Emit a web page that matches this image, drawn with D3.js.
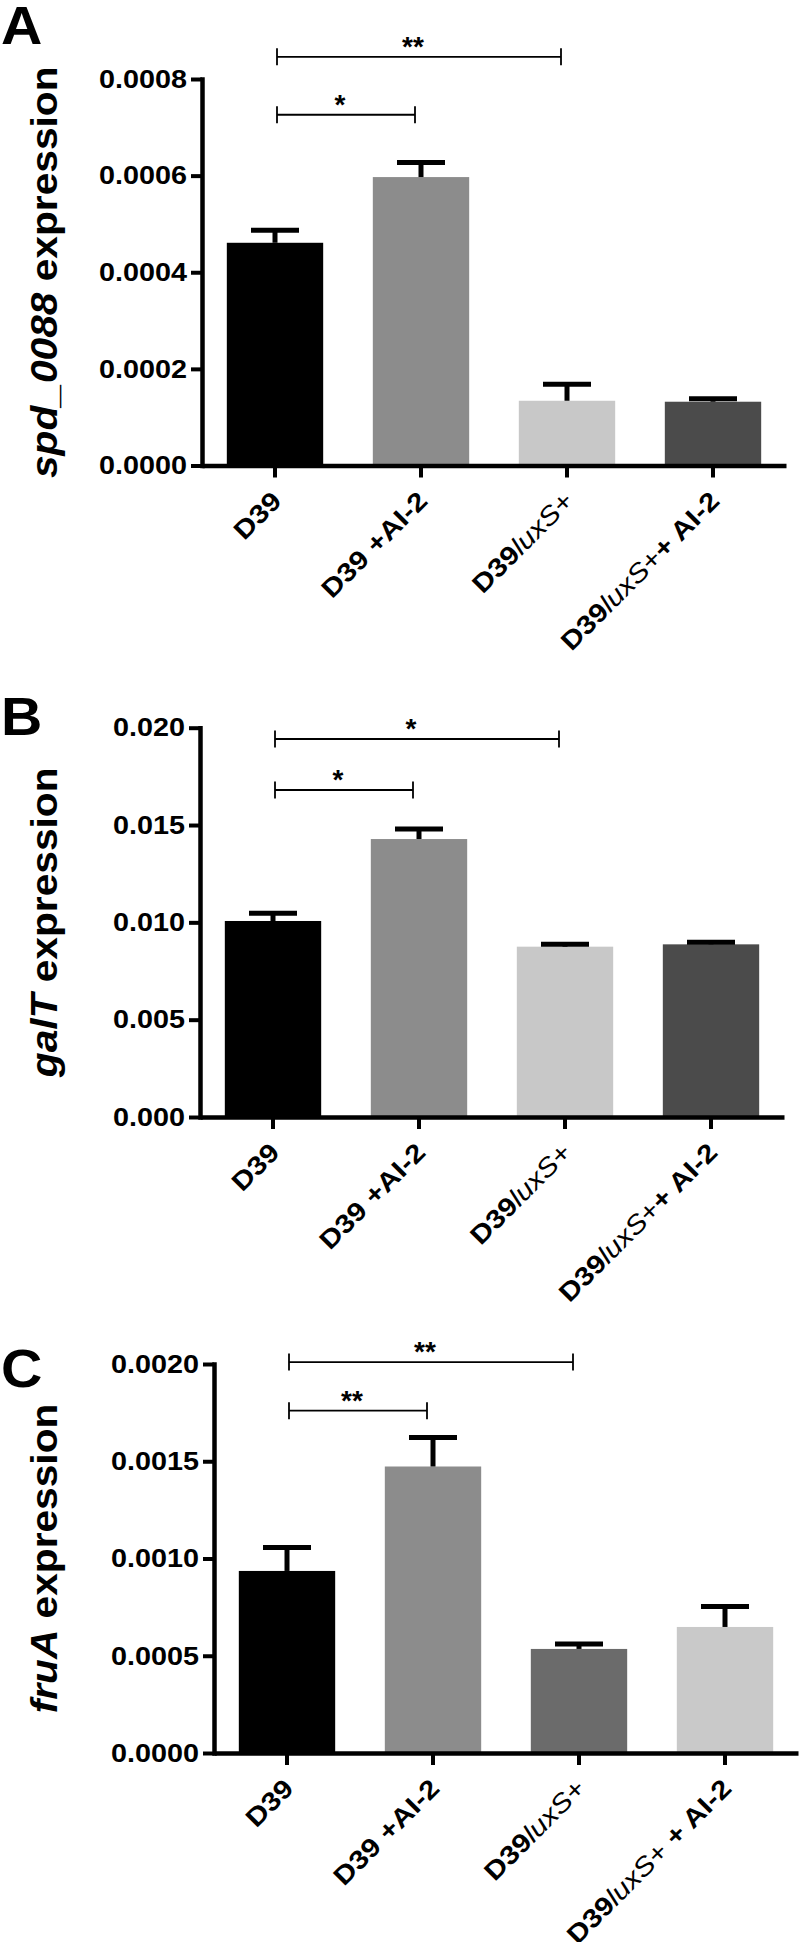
<!DOCTYPE html>
<html>
  <head>
    <meta charset="utf-8" />
    <title>spd_0088 / galT / fruA expression</title>
    <script src="https://d3js.org/d3.v7.min.js"></script>
    <style>
      body { margin: 0; background: #fff; }
      text { font-family: "Liberation Sans", Arial, sans-serif; white-space: pre; }
    </style>
  </head>
  <body>
    <svg id="chart" width="800" height="1942"></svg>

    <script>
      // groups (x categories)
      var groupsAB = ["D39", "D39 +AI-2", "D39luxS+", "D39luxS++ AI-2"];
      var groupsC = ["D39", "D39 +AI-2", "D39luxS+", "D39luxS+ + AI-2"];

      // A: spd_0088
      var spdMean = [0.000461, 0.000597, 0.000134, 0.000132];
      var spdSem = [0.000026, 0.00003, 0.000034, 0.000006];
      var spdTicks = [0, 0.0002, 0.0004, 0.0006, 0.0008];
      var spdSig = [
        { from: 0, to: 2, label: "**", level: 0.000846 },
        { from: 0, to: 1, label: "*", level: 0.000726 },
      ];

      // B: galT
      var galMean = [0.01007, 0.01428, 0.00875, 0.00887];
      var galSem = [0.0004, 0.00051, 0.00013, 0.00011];
      var galTicks = [0, 0.005, 0.01, 0.015, 0.02];
      var galSig = [
        { from: 0, to: 2, label: "*", level: 0.01942 },
        { from: 0, to: 1, label: "*", level: 0.0168 },
      ];

      // C: fruA
      var fruMean = [0.000936, 0.001473, 0.000535, 0.000648];
      var fruSem = [0.000121, 0.000149, 0.000025, 0.000105];
      var fruTicks = [0, 0.0005, 0.001, 0.0015, 0.002];
      var fruSig = [
        { from: 0, to: 2, label: "**", level: 0.00201 },
        { from: 0, to: 1, label: "**", level: 0.00176 },
      ];

      var colorsAB = ["#000000", "#8c8c8c", "#c8c8c8", "#4b4b4b"];
      var colorsC = ["#000000", "#8c8c8c", "#6b6b6b", "#c9c9c9"];

      var panels = [
        { letter: "A", letterY: 44, title: "spd_0088 expression", groups: groupsAB, mean: spdMean, sem: spdSem,
          ticks: spdTicks, fmt: ".4f", sig: spdSig, colors: colorsAB, left: 202, top: 79, bottom: 465.5 },
        { letter: "B", letterY: 735, title: "galT expression", groups: groupsAB, mean: galMean, sem: galSem,
          ticks: galTicks, fmt: ".3f", sig: galSig, colors: colorsAB, left: 200, top: 727.7, bottom: 1117 },
        { letter: "C", letterY: 1387, title: "fruA expression", groups: groupsC, mean: fruMean, sem: fruSem,
          ticks: fruTicks, fmt: ".4f", sig: fruSig, colors: colorsC, left: 214, top: 1364, bottom: 1753 },
      ];

      var stretch = 1.15; // the figure's type is a bit wider than Arial

      var svg = d3.select("#chart");

      function labelParts(s) {
        var m = s.match(/^(.*?)(luxS)(\+)(.*)$/);
        if (!m) return [{ t: s, w: "bold" }];
        return [
          { t: m[1], w: "bold" },
          { t: m[2], w: "normal", it: true },
          { t: m[3], w: "normal" },
          { t: m[4], w: "bold" },
        ].filter(function (d) { return d.t.length; });
      }

      function drawPanel(p) {
        var g = svg.append("g");

        var y = d3.scaleLinear()
          .domain([0, p.ticks[p.ticks.length - 1]])
          .range([p.bottom, p.top]);

        var x = d3.scaleBand()
          .domain(d3.range(p.groups.length))
          .range([p.left, p.left + 584])
          .paddingInner(0.34)
          .paddingOuter(0.17);

        var bw = x.bandwidth();
        function cx(i) { return x(i) + bw / 2; }

        // panel letter
        g.append("text")
          .attr("transform", "translate(1," + p.letterY + ") scale(1.06,1)")
          .attr("font-size", 54)
          .attr("font-weight", "bold")
          .text(p.letter);

        // bars
        g.selectAll("rect.bar")
          .data(p.mean)
          .enter()
          .append("rect")
          .attr("class", "bar")
          .attr("x", function (d, i) { return x(i); })
          .attr("width", bw)
          .attr("y", function (d) { return y(d); })
          .attr("height", function (d) { return y(0) - y(d); })
          .style("fill", function (d, i) { return p.colors[i]; });

        // error bars (upper only)
        var err = g.selectAll("g.err")
          .data(p.mean)
          .enter()
          .append("g")
          .attr("class", "err")
          .style("stroke", "#000")
          .style("stroke-width", 5);

        err.append("line")
          .attr("x1", function (d, i) { return cx(i); })
          .attr("x2", function (d, i) { return cx(i); })
          .attr("y1", function (d) { return y(d); })
          .attr("y2", function (d, i) { return y(d + p.sem[i]); });

        err.append("line")
          .attr("x1", function (d, i) { return cx(i) - 24; })
          .attr("x2", function (d, i) { return cx(i) + 24; })
          .attr("y1", function (d, i) { return y(d + p.sem[i]); })
          .attr("y2", function (d, i) { return y(d + p.sem[i]); });

        // y axis
        var yAxis = g.append("g")
          .attr("transform", "translate(" + p.left + ",0)")
          .call(
            d3.axisLeft(y)
              .tickValues(p.ticks)
              .tickFormat(d3.format(p.fmt))
              .tickSize(11)
              .tickSizeOuter(0)
          );
        yAxis.select(".domain").attr("stroke-width", 4.5).attr("stroke-linecap", "square");
        yAxis.selectAll(".tick line").attr("stroke-width", 4);
        yAxis.selectAll(".tick text")
          .attr("x", null)
          .attr("dy", "0.33em")
          .attr("transform", "translate(-15,0) scale(" + stretch + ",1)")
          .attr("font-size", 25)
          .attr("font-weight", "bold")
          .attr("font-family", null)
          .attr("fill", "#000");

        // x axis
        var xAxis = g.append("g")
          .attr("transform", "translate(0," + p.bottom + ")")
          .call(d3.axisBottom(x).tickSize(12).tickSizeOuter(0).tickFormat(""));
        xAxis.select(".domain").attr("stroke-width", 4.5);
        xAxis.selectAll(".tick line").attr("stroke-width", 4);

        // rotated group labels
        p.groups.forEach(function (name, i) {
          var t = g.append("text")
            .attr("transform", "translate(" + (cx(i) + 8) + "," + (p.bottom + 37) + ") rotate(-45) scale(" + stretch + ",1)")
            .attr("text-anchor", "end")
            .attr("font-size", 26);
          labelParts(name).forEach(function (part) {
            t.append("tspan")
              .attr("font-weight", part.w)
              .attr("font-style", part.it ? "italic" : "normal")
              .text(part.t);
          });
        });

        // y title
        var words = p.title.split(" ");
        var title = g.append("text")
          .attr("transform", "translate(57," + (p.top + p.bottom) / 2 + ") rotate(-90) scale(1.13,1)")
          .attr("text-anchor", "middle")
          .attr("font-size", 36)
          .attr("font-weight", "bold");
        title.append("tspan").attr("font-style", "italic").text(words[0]);
        title.append("tspan").text(" " + words.slice(1).join(" "));

        // significance brackets
        var sig = g.selectAll("g.sig")
          .data(p.sig)
          .enter()
          .append("g")
          .attr("class", "sig")
          .style("stroke", "#000")
          .style("stroke-width", 1.8);

        function x1(d) { return cx(d.from) + 2; }
        function x2(d) { return cx(d.to) - 6; }

        sig.append("line")
          .attr("x1", x1).attr("x2", x2)
          .attr("y1", function (d) { return y(d.level); })
          .attr("y2", function (d) { return y(d.level); });
        sig.append("line")
          .attr("x1", x1).attr("x2", x1)
          .attr("y1", function (d) { return y(d.level) - 8.5; })
          .attr("y2", function (d) { return y(d.level) + 8.5; });
        sig.append("line")
          .attr("x1", x2).attr("x2", x2)
          .attr("y1", function (d) { return y(d.level) - 8.5; })
          .attr("y2", function (d) { return y(d.level) + 8.5; });
        sig.append("text")
          .attr("x", function (d) { return (x1(d) + x2(d)) / 2 - 6; })
          .attr("y", function (d) { return y(d.level) - 1; })
          .attr("text-anchor", "middle")
          .attr("font-size", 28)
          .attr("font-weight", "bold")
          .style("stroke", "none")
          .text(function (d) { return d.label; });
      }

      panels.forEach(drawPanel);
    </script>
  </body>
</html>
